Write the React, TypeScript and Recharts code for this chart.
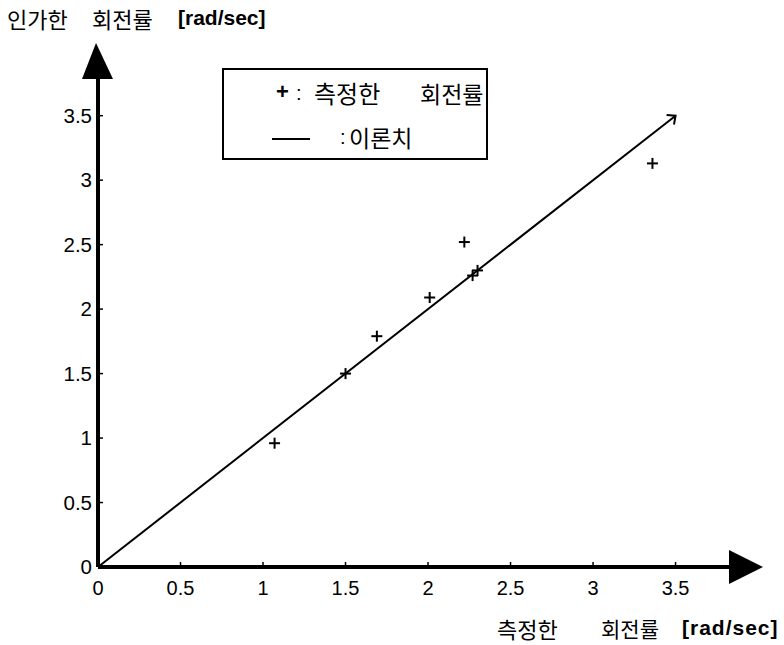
import React from "react";
import {
  ScatterChart, Scatter, XAxis, YAxis, ReferenceDot, Legend,
} from "recharts";

// measured vs. applied rotation rate [rad/sec]
const measuredRate = [1.07, 1.5, 1.69, 2.01, 2.22, 2.27, 2.3, 3.36];
const appliedRate = [0.96, 1.5, 1.79, 2.09, 2.52, 2.26, 2.3, 3.13];
const theoryX = [0, 3.5];
const theoryY = [0, 3.5];
const xTicks = [0, 0.5, 1, 1.5, 2, 2.5, 3, 3.5];
const yTicks = [0, 0.5, 1, 1.5, 2, 2.5, 3, 3.5];

const X_MAX = 3.836;
const Y_MAX = 3.8;

const LATIN = '"Liberation Sans", Arial, sans-serif';
const KOREAN = '"Noto Sans CJK KR", "Liberation Sans", sans-serif';

const measuredData = measuredRate.map((x, i) => ({ x, y: appliedRate[i] }));
const theoryData = theoryX.map((x, i) => ({ x, y: theoryY[i] }));

// ── shapes ──────────────────────────────────────────────────────────────
const PlusMark = (p: any) => (
  <g stroke="#000" strokeWidth={2}>
    <line x1={p.cx - 5.5} y1={p.cy} x2={p.cx + 5.5} y2={p.cy} />
    <line x1={p.cx} y1={p.cy - 5.5} x2={p.cx} y2={p.cy + 5.5} />
  </g>
);

const ArrowLine = (p: any) => {
  const pts = p.points || [];
  if (pts.length < 2) return <g />;
  const a = pts[0];
  const b = pts[pts.length - 1];
  const ang = Math.atan2(a.y - b.y, a.x - b.x);
  const len = 9;
  const spread = (42 * Math.PI) / 180;
  const h1 = { x: b.x + len * Math.cos(ang + spread), y: b.y + len * Math.sin(ang + spread) };
  const h2 = { x: b.x + len * Math.cos(ang - spread), y: b.y + len * Math.sin(ang - spread) };
  return (
    <g stroke="#000" strokeWidth={2} fill="none">
      <path d={`M${a.x},${a.y}L${b.x},${b.y}`} />
      <path d={`M${h1.x},${h1.y}L${b.x},${b.y}L${h2.x},${h2.y}`} />
    </g>
  );
};

const ArrowRight = (p: any) => (
  <polygon points={`${p.cx - 2},${p.cy - 17} ${p.cx + 32},${p.cy} ${p.cx - 2},${p.cy + 17}`} fill="#000" />
);

const ArrowUp = (p: any) => (
  <polygon points={`${p.cx - 16},${p.cy + 2} ${p.cx - 2},${p.cy - 34} ${p.cx + 15},${p.cy + 2}`} fill="#000" />
);

const XTick = (p: any) => (
  <g>
    <line x1={p.x} y1={p.y} x2={p.x} y2={p.y - 5} stroke="#000" strokeWidth={1.5} />
    <text x={p.x} y={p.y + 28} textAnchor="middle" fontSize={20} fontFamily={LATIN} fill="#000">
      {String(p.payload.value)}
    </text>
  </g>
);

const YTick = (p: any) => (
  <g>
    <line x1={p.x} y1={p.y} x2={p.x + 5} y2={p.y} stroke="#000" strokeWidth={1.5} />
    <text x={p.x - 6} y={p.y + 7} textAnchor="end" fontSize={20.5} fontFamily={LATIN} fill="#000">
      {String(p.payload.value)}
    </text>
  </g>
);

const legendBox = () => (
  <div
    style={{
      position: "relative", width: 266, height: 92, boxSizing: "border-box",
      border: "2.5px solid #000", background: "#fff", color: "#000",
    }}
  >
    <span style={{ position: "absolute", left: 52, top: 7, fontFamily: LATIN, fontSize: 22, fontWeight: "bold", lineHeight: "30px" }}>+</span>
    <span style={{ position: "absolute", left: 72, top: 8, fontFamily: LATIN, fontSize: 20, lineHeight: "30px" }}>:</span>
    <span style={{ position: "absolute", left: 90, top: 8, fontFamily: KOREAN, fontSize: 24, lineHeight: "30px" }}>측정한</span>
    <span style={{ position: "absolute", left: 196, top: 8, fontFamily: KOREAN, fontSize: 23, lineHeight: "30px" }}>회전률</span>
    <div style={{ position: "absolute", left: 48, top: 67.5, width: 38, height: 2, background: "#000" }} />
    <span style={{ position: "absolute", left: 116, top: 52, fontFamily: LATIN, fontSize: 20, lineHeight: "30px" }}>:</span>
    <span style={{ position: "absolute", left: 125, top: 52, fontFamily: KOREAN, fontSize: 23, lineHeight: "30px" }}>이론치</span>
  </div>
);

const titleStyle = (left: number, top: number, font: string, size: number, extra: React.CSSProperties = {}): React.CSSProperties => ({
  position: "absolute", left, top, fontFamily: font, fontSize: size,
  lineHeight: "24px", color: "#000", whiteSpace: "nowrap", ...extra,
});

export default function App() {
  return (
    <div style={{ position: "absolute", left: 0, top: 0, width: 784, height: 645, background: "#fff" }}>
      <ScatterChart width={784} height={645} margin={{ top: 77, right: 53, left: 58, bottom: 48 }}>
        <XAxis
          type="number" dataKey="x" domain={[0, X_MAX]} ticks={xTicks} interval={0}
          allowDataOverflow height={30} tickSize={0} tickMargin={0}
          axisLine={{ stroke: "#000", strokeWidth: 4 }} tickLine={false} tick={<XTick />}
        />
        <YAxis
          type="number" dataKey="y" domain={[0, Y_MAX]} ticks={yTicks} interval={0}
          allowDataOverflow width={40} tickSize={0} tickMargin={0}
          axisLine={{ stroke: "#000", strokeWidth: 4 }} tickLine={false} tick={<YTick />}
        />
        <Legend
          layout="vertical" align="center" verticalAlign="middle"
          wrapperStyle={{ left: 222, top: 68, width: 266, height: 92 }}
          content={legendBox}
        />
        <Scatter
          name="이론치" data={theoryData} line={ArrowLine} lineType="joint"
          shape={() => <g />} isAnimationActive={false}
        />
        <Scatter name="측정한 회전률" data={measuredData} shape={PlusMark} isAnimationActive={false} />
        <ReferenceDot x={X_MAX} y={0} ifOverflow="visible" shape={ArrowRight} />
        <ReferenceDot x={0} y={Y_MAX} ifOverflow="visible" shape={ArrowUp} />
      </ScatterChart>

      <span style={titleStyle(7, 6, KOREAN, 22)}>인가한</span>
      <span style={titleStyle(92, 6, KOREAN, 22)}>회전률</span>
      <span style={titleStyle(178, 6, LATIN, 21, { fontWeight: "bold" })}>[rad/sec]</span>

      <span style={titleStyle(497, 616, KOREAN, 22)}>측정한</span>
      <span style={titleStyle(601, 616, KOREAN, 21)}>회전률</span>
      <span style={titleStyle(682, 616, LATIN, 21, { fontWeight: "bold", letterSpacing: 1 })}>[rad/sec]</span>
    </div>
  );
}
